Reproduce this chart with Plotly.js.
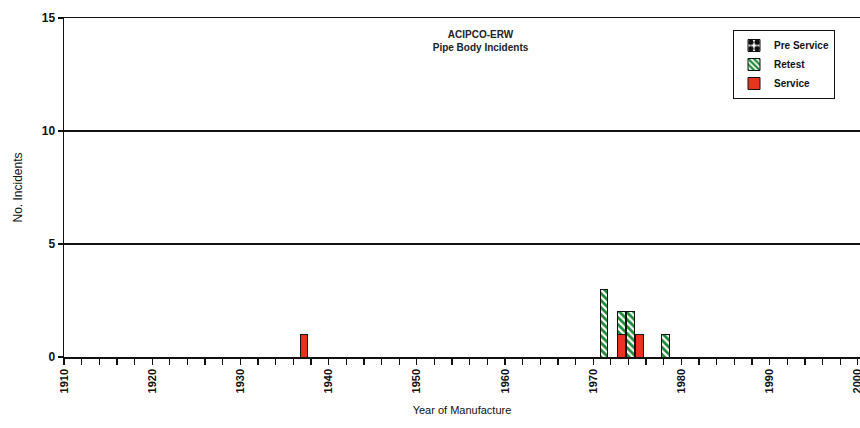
<!DOCTYPE html>
<html>
<head>
<meta charset="utf-8">
<script src="https://cdn.plot.ly/plotly-3.0.1.min.js"></script>
<style>
html,body{margin:0;padding:0;background:#fff;overflow:hidden;}
#chart{width:860px;height:428px;}
</style>
</head>
<body>
<div id="chart"></div>
<script>
// Data
const years = [1937, 1971, 1973, 1974, 1975, 1978];
const preService = [0, 0, 0, 0, 0, 0];
const retest = [0, 3, 1, 2, 0, 1];
const service = [1, 0, 1, 0, 1, 0];
const seriesNames = ['Pre Service', 'Retest', 'Service'];
const xTickVals = [1910, 1920, 1930, 1940, 1950, 1960, 1970, 1980, 1990, 2000];
const xTickText = ['1910', '1920', '1930', '1940', '1950', '1960', '1970', '1980', '1990', '2000'];
const yTickVals = [0, 5, 10, 15];

const RED = '#e8341f';
const GREEN = '#1f8a36';
const barOffset = -0.2, barWidth = 0.85;
const outline = {color: '#111', width: 1};

const traces = [
  {type: 'bar', x: years, y: service, name: seriesNames[2],
   offset: barOffset, width: barWidth,
   marker: {color: RED, line: outline}},
  {type: 'bar', x: years, y: retest, name: seriesNames[1],
   offset: barOffset, width: barWidth,
   marker: {color: '#fff', line: outline,
            pattern: {shape: '\\', fgcolor: GREEN, bgcolor: '#ffffff', size: 5, solidity: 0.55}}},
  {type: 'bar', x: years, y: preService, name: seriesNames[0],
   offset: barOffset, width: barWidth,
   marker: {color: '#fff', line: {color: '#111', width: 1},
            pattern: {shape: '.', fgcolor: '#111', bgcolor: '#ffffff', size: 8, solidity: 0.6}}}
];

const FONT = 'Liberation Sans, Arial, sans-serif';
const PLOT_L = 64, PLOT_T = 18, PLOT_B = 357, W = 860, H = 428;

const layout = {
  width: W, height: H,
  margin: {l: PLOT_L, r: 0, t: PLOT_T, b: H - PLOT_B},
  paper_bgcolor: '#fff', plot_bgcolor: '#fff',
  barmode: 'stack',
  bargap: 0,
  font: {family: FONT, size: 10, color: '#111'},
  title: {
    text: '<b>ACIPCO-ERW</b><br><b>Pipe Body Incidents</b>',
    font: {family: FONT, size: 10, color: '#222'},
    x: 450 / W, xref: 'paper', xanchor: 'center',
    y: 1 - 38 / H, yref: 'container', yanchor: 'middle'
  },
  xaxis: {
    range: [1910, 2000.25],
    tickmode: 'array', tickvals: xTickVals, ticktext: xTickText,
    tickangle: -90, ticklabeloverflow: 'allow',
    ticks: 'outside', ticklen: 6, tickwidth: 1.3, tickcolor: '#111',
    minor: {dtick: 2, ticks: 'outside', ticklen: 6, tickwidth: 1.3, tickcolor: '#111', showgrid: false},
    tickfont: {family: FONT, size: 11, color: '#111', weight: 'bold'},
    showline: true, linecolor: '#111', linewidth: 1.5, mirror: true,
    showgrid: false, zeroline: false, fixedrange: true,
    title: {text: 'Year of Manufacture', font: {family: FONT, size: 11, color: '#111'}, standoff: 14}
  },
  yaxis: {
    range: [0, 15],
    tickmode: 'array', tickvals: yTickVals,
    ticks: 'outside', ticklen: 5, tickwidth: 1.3, tickcolor: '#111',
    tickfont: {family: FONT, size: 12, color: '#111', weight: 'bold'},
    showline: true, linecolor: '#111', linewidth: 1.5,
    showgrid: true, gridcolor: '#111', gridwidth: 1.2,
    zeroline: false, fixedrange: true,
    title: {text: 'No. Incidents', font: {family: FONT, size: 12, color: '#111'}, standoff: 16}
  },
  legend: {
    x: (733 - PLOT_L) / (W - PLOT_L), xanchor: 'left',
    y: (PLOT_B - 30) / (PLOT_B - PLOT_T), yanchor: 'top',
    bgcolor: '#fff', bordercolor: '#111', borderwidth: 1,
    font: {family: FONT, size: 10, color: '#111', weight: 'bold'},
    traceorder: 'reversed', tracegroupgap: 0, itemwidth: 30
  },
  showlegend: true
};

Plotly.newPlot('chart', traces, layout, {displayModeBar: false, staticPlot: true});
</script>
</body>
</html>
